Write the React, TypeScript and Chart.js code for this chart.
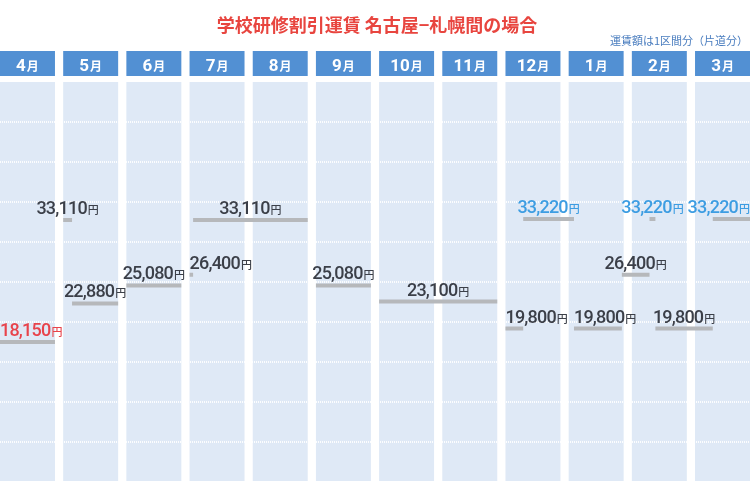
import React, { useEffect, useRef } from "react";
import { Chart, registerables } from "chart.js";

Chart.register(...registerables);

const TITLE = "学校研修割引運賃 名古屋−札幌間の場合";
const SUBTITLE = "運賃額は1区間分（片道分）";
const MONTH_NUMS = [4, 5, 6, 7, 8, 9, 10, 11, 12, 1, 2, 3];
const DAYS_IN_MONTH = [30, 31, 30, 31, 31, 30, 31, 30, 31, 31, 28, 31];
const YEN = "円";
const MONTH_SUFFIX = "月";

// fare periods (start / end dates inclusive)
const FARES = [18150, 33110, 22880, 25080, 26400, 33110, 25080, 23100, 19800, 33220, 19800, 26400, 33220, 19800, 33220];
const START_DATES = ["4/1", "5/1", "5/6", "6/1", "7/1", "7/3", "9/1", "10/1", "12/1", "12/11", "1/4", "1/31", "2/10", "2/13", "3/11"];
const END_DATES = ["4/30", "5/5", "5/31", "6/30", "7/2", "8/31", "9/30", "11/30", "12/10", "1/3", "1/30", "2/9", "2/12", "3/10", "3/31"];

const Y_MIN = 1000;
const Y_MAX = 50000;
const Y_STEP = 4900;
const BOX = 0.87; // share of a month slot covered by its column

const C_TITLE = "#e8453f";
const C_SUB = "#4a7dbf";
const C_HEAD = "#5290d3";
const C_COL = "#dfe9f6";
const C_BAR = "#b6b8bb";
const C_TEXT = "#3b3f48";
const C_MIN = "#e8434b";
const C_MAX = "#3d9de2";

function dateToX(s: string, isEnd: boolean) {
  const [m, d] = s.split("/").map(Number);
  const idx = MONTH_NUMS.indexOf(m);
  const dim = DAYS_IN_MONTH[idx];
  const frac = isEnd ? d / dim : (d - 1) / dim;
  return idx + frac * BOX;
}

export default function App() {
  const ref = useRef<HTMLCanvasElement>(null);

  useEffect(() => {
    document.body.style.margin = "0";
    const canvas = ref.current!;
    const segs = FARES.map((f, i) => ({
      fare: f,
      x0: dateToX(START_DATES[i], false),
      x1: dateToX(END_DATES[i], true),
    }));
    const data: any[] = [];
    segs.forEach((s) => {
      data.push({ x: s.x0, y: s.fare }, { x: s.x1, y: s.fare }, { x: s.x1, y: null });
    });
    const minFare = Math.min(...FARES);
    const maxFare = Math.max(...FARES);

    const decor = {
      id: "decor",
      beforeDraw(chart: any) {
        const ctx = chart.ctx;
        const xs = chart.scales.x;
        const area = chart.chartArea;
        ctx.save();
        // title
        ctx.fillStyle = C_TITLE;
        ctx.font = 'bold 18px "Noto Sans CJK JP"';
        ctx.textAlign = "center";
        ctx.textBaseline = "middle";
        ctx.fillText(TITLE, 377, 25);
        // subtitle
        ctx.fillStyle = C_SUB;
        ctx.font = '11px "Noto Sans CJK JP"';
        ctx.textAlign = "right";
        ctx.fillText(SUBTITLE, 748, 41);
        // columns + headers
        MONTH_NUMS.forEach((m, i) => {
          const l = xs.getPixelForValue(i);
          const r = xs.getPixelForValue(i + BOX);
          ctx.fillStyle = C_COL;
          ctx.fillRect(l, area.top, r - l, area.bottom - area.top - 1);
          ctx.fillStyle = C_HEAD;
          ctx.fillRect(l, 51, r - l, 25);
          const num = String(m);
          ctx.font = "bold 17px Roboto";
          const wn = ctx.measureText(num).width;
          ctx.font = 'bold 12px "Noto Sans CJK JP"';
          const wm = ctx.measureText(MONTH_SUFFIX).width;
          const tx = (l + r) / 2 - (wn + 1 + wm) / 2;
          ctx.fillStyle = "#ffffff";
          ctx.textAlign = "left";
          ctx.textBaseline = "alphabetic";
          ctx.font = "bold 17px Roboto";
          ctx.fillText(num, tx, 71);
          ctx.font = 'bold 12px "Noto Sans CJK JP"';
          ctx.fillText(MONTH_SUFFIX, tx + wn + 1, 70.5);
        });
        ctx.restore();
      },
      beforeDatasetsDraw(chart: any) {
        const ctx = chart.ctx;
        const ys = chart.scales.y;
        const area = chart.chartArea;
        ctx.save();
        ctx.strokeStyle = "rgba(255,255,255,0.9)";
        ctx.lineWidth = 2;
        ctx.setLineDash([1, 1]);
        for (let v = Y_MIN + Y_STEP; v < Y_MAX - 1; v += Y_STEP) {
          const y = Math.round(ys.getPixelForValue(v));
          ctx.beginPath();
          ctx.moveTo(area.left, y);
          ctx.lineTo(area.right, y);
          ctx.stroke();
        }
        ctx.restore();
      },
      afterDatasetsDraw(chart: any) {
        const ctx = chart.ctx;
        const xs = chart.scales.x;
        const ys = chart.scales.y;
        const area = chart.chartArea;
        const bars = segs.map((s) => ({
          l: xs.getPixelForValue(s.x0),
          r: xs.getPixelForValue(s.x1),
          y: ys.getPixelForValue(s.fare),
        }));
        const placed: any[] = [];
        ctx.save();
        ctx.textAlign = "left";
        ctx.textBaseline = "alphabetic";
        segs.forEach((s, i) => {
          const b = bars[i];
          const num = s.fare.toLocaleString("en-US");
          ctx.font = "500 18px Roboto";
          (ctx as any).letterSpacing = "-0.8px";
          const wn = ctx.measureText(num).width;
          ctx.font = '500 11px "Noto Sans CJK JP"';
          (ctx as any).letterSpacing = "0px";
          const wy = ctx.measureText(YEN).width;
          const w = wn + 1 + wy;
          const base = b.y - 6;
          const top = base - 13;
          const hits = (x: number) => {
            const L = x, R = x + w;
            for (const p of placed) {
              if (L < p.r && R > p.l && top < p.b && base > p.t) return true;
            }
            for (let j = 0; j < bars.length; j++) {
              if (j === i) continue;
              const o = bars[j];
              if (L < o.r && R > o.l && top - 8 < o.y + 2 && base + 8 > o.y - 2) return true;
            }
            return false;
          };
          let x = (b.l + b.r) / 2 - w / 2;
          if (hits(x)) x = b.l;
          if (x < area.left) x = area.left;
          if (x + w > area.right) x = area.right - w;
          placed.push({ l: x, r: x + w, t: top, b: base });
          const col = s.fare === minFare ? C_MIN : s.fare === maxFare ? C_MAX : C_TEXT;
          ctx.fillStyle = col;
          ctx.font = "500 18px Roboto";
          (ctx as any).letterSpacing = "-0.8px";
          ctx.fillText(num, x, base);
          ctx.font = '500 11px "Noto Sans CJK JP"';
          (ctx as any).letterSpacing = "0px";
          ctx.fillText(YEN, x + wn + 1, base);
        });
        ctx.restore();
      },
    };

    const chart = new Chart(canvas, {
      type: "line",
      data: {
        datasets: [
          {
            data,
            borderColor: C_BAR,
            borderWidth: 4,
            borderCapStyle: "butt",
            pointRadius: 0,
            pointHoverRadius: 0,
            spanGaps: false,
            tension: 0,
            fill: false,
          } as any,
        ],
      },
      options: {
        responsive: false,
        animation: false,
        devicePixelRatio: 1,
        layout: { padding: { top: 82, bottom: 4, left: 0, right: 0 } },
        plugins: { legend: { display: false }, tooltip: { enabled: false }, title: { display: false } },
        events: [],
        scales: {
          x: { type: "linear", min: 0, max: 11 + BOX, display: false },
          y: { type: "linear", min: Y_MIN, max: Y_MAX, display: false, ticks: { stepSize: Y_STEP } },
        },
      },
      plugins: [decor],
    });
    return () => chart.destroy();
  }, []);

  return <canvas ref={ref} width={750} height={486} style={{ display: "block", width: 750, height: 486 }} />;
}
